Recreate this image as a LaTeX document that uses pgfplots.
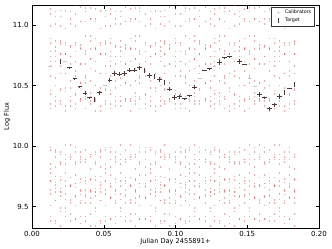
\documentclass[border=0pt]{standalone}
\usepackage{fontspec}
\setmainfont{DejaVu Sans}
\usepackage{pgfplots}
\pgfplotsset{compat=1.18}
\usepackage{pgfplotstable}
\definecolor{tgt}{RGB}{80,55,55}
\definecolor{faintc}{RGB}{205,198,198}
\definecolor{cal}{RGB}{245,80,80}

\pgfplotstableread{
x s1 s2 s3 s4 s5 s6 s7 s8 s9 s10 s11 s12 s13 s14 s15 s16 s17 s18 s19 s20 s21 s22 s23 s24 s25 s26 s27
0.0125 11.13 11.09 10.99 10.89 10.85 10.78 10.74 10.70 10.66 10.58 10.46 10.43 10.35 10.31 9.99 9.97 9.85 9.81 9.78 9.71 9.71 9.64 9.60 9.61 9.51 9.38 9.42
0.0160 11.11 11.07 11.01 10.87 10.79 10.82 10.78 10.74 10.70 10.56 10.50 10.41 10.37 10.33 9.95 9.97 9.91 9.83 9.70 9.75 9.65 9.68 9.62 9.55 9.55 9.38 9.36
0.0195 11.12 11.07 10.99 10.85 10.87 10.84 10.76 10.76 10.66 10.60 10.46 10.47 10.37 10.35 9.93 9.95 9.87 9.85 9.72 9.75 9.65 9.62 9.62 9.59 9.49 9.46 9.34
0.0229 11.12 11.11 10.97 10.85 10.83 10.76 10.76 10.76 10.60 10.60 10.48 10.45 10.33 10.29 10.01 9.93 9.85 9.89 9.78 9.67 9.71 9.60 9.56 9.61 9.49 9.46 9.42
0.0264 11.11 11.05 11.01 10.83 10.83 10.82 10.74 10.74 10.68 10.54 10.48 10.41 10.33 10.37 10.01 9.91 9.93 9.89 9.74 9.67 9.67 9.68 9.56 9.55 9.53 9.44 9.38
0.0299 11.16 11.09 10.99 10.83 10.85 10.78 10.70 10.70 10.62 10.58 10.42 10.43 10.35 10.31 9.99 9.95 9.87 9.85 9.76 9.69 9.69 9.66 9.58 9.59 9.51 9.40 9.40
0.0334 11.15 11.03 11.03 10.83 10.81 10.84 10.80 10.68 10.68 10.52 10.52 10.39 10.39 10.37 9.95 9.89 9.91 9.87 9.70 9.73 9.63 9.60 9.64 9.53 9.55 9.42 9.36
0.0369 11.14 11.11 11.03 10.91 10.79 10.76 10.78 10.68 10.58 10.56 10.52 10.39 10.41 10.31 9.97 9.89 9.89 9.87 9.74 9.71 9.69 9.64 9.60 9.59 9.53 9.42 9.38
0.0403 11.14 11.05 11.05 10.91 10.87 10.80 10.72 10.72 10.64 10.54 10.44 10.37 10.41 10.35 9.93 9.91 9.93 9.81 9.72 9.73 9.63 9.62 9.64 9.53 9.57 9.44 9.34
0.0438 11.13 11.03 11.05 10.89 10.81 10.80 10.80 10.70 10.62 10.50 10.50 10.37 10.39 10.29 9.93 9.95 9.87 9.85 9.72 9.75 9.65 9.62 9.62 9.59 9.49 9.46 9.34
0.0473 11.12 11.11 10.97 10.85 10.83 10.76 10.76 10.76 10.60 10.60 10.48 10.45 10.33 10.29 9.95 9.97 9.91 9.83 9.70 9.75 9.65 9.68 9.62 9.55 9.55 9.38 9.36
0.0508 11.12 11.07 10.99 10.85 10.87 10.84 10.76 10.76 10.66 10.60 10.46 10.47 10.37 10.35 9.99 9.97 9.85 9.81 9.78 9.71 9.71 9.64 9.60 9.61 9.51 9.38 9.42
0.0543 11.13 11.09 10.99 10.89 10.85 10.78 10.74 10.70 10.66 10.58 10.46 10.43 10.35 10.31 9.99 9.95 9.89 9.83 9.76 9.69 9.67 9.66 9.58 9.57 9.57 9.40 9.40
0.0577 11.11 11.05 11.01 10.83 10.83 10.82 10.74 10.74 10.68 10.54 10.48 10.41 10.33 10.37 9.95 9.89 9.91 9.87 9.70 9.73 9.63 9.60 9.64 9.53 9.55 9.42 9.36
0.0612 11.11 11.07 11.01 10.87 10.79 10.82 10.78 10.74 10.70 10.56 10.50 10.41 10.37 10.33 10.01 9.93 9.85 9.89 9.78 9.67 9.71 9.60 9.56 9.61 9.49 9.46 9.42
0.0647 11.15 11.03 11.03 10.83 10.81 10.84 10.80 10.68 10.68 10.52 10.52 10.39 10.39 10.37 9.97 9.89 9.89 9.87 9.74 9.71 9.69 9.64 9.60 9.59 9.53 9.42 9.38
0.0682 11.13 11.03 11.05 10.89 10.81 10.80 10.80 10.70 10.62 10.50 10.50 10.37 10.39 10.29 10.01 9.91 9.93 9.89 9.74 9.67 9.67 9.68 9.56 9.55 9.53 9.44 9.38
0.0717 11.14 11.05 11.05 10.91 10.87 10.80 10.72 10.72 10.64 10.54 10.44 10.37 10.41 10.35 9.93 9.91 9.93 9.81 9.72 9.73 9.63 9.62 9.64 9.53 9.57 9.44 9.34
0.0751 11.14 11.11 11.03 10.91 10.79 10.76 10.78 10.68 10.58 10.56 10.52 10.39 10.41 10.31 9.99 9.95 9.87 9.85 9.76 9.69 9.69 9.66 9.58 9.59 9.51 9.40 9.40
0.0786 11.16 11.09 10.99 10.83 10.85 10.78 10.70 10.70 10.62 10.58 10.42 10.43 10.35 10.31 9.99 9.95 9.89 9.83 9.76 9.69 9.67 9.66 9.58 9.57 9.57 9.40 9.40
0.0821 11.11 11.05 11.01 10.83 10.83 10.82 10.74 10.74 10.68 10.54 10.48 10.41 10.33 10.37 9.99 9.97 9.85 9.81 9.78 9.71 9.71 9.64 9.60 9.61 9.51 9.38 9.42
0.0856 11.12 11.11 10.97 10.85 10.83 10.76 10.76 10.76 10.60 10.60 10.48 10.45 10.33 10.29 9.93 9.95 9.87 9.85 9.72 9.75 9.65 9.62 9.62 9.59 9.49 9.46 9.34
0.0891 11.11 11.07 11.01 10.87 10.79 10.82 10.78 10.74 10.70 10.56 10.50 10.41 10.37 10.33 9.95 9.97 9.91 9.83 9.70 9.75 9.65 9.68 9.62 9.55 9.55 9.38 9.36
0.0925 11.12 11.07 10.99 10.85 10.87 10.84 10.76 10.76 10.66 10.60 10.46 10.47 10.37 10.35 10.01 9.91 9.93 9.89 9.74 9.67 9.67 9.68 9.56 9.55 9.53 9.44 9.38
0.0960 11.15 11.03 11.03 10.83 10.81 10.84 10.80 10.68 10.68 10.52 10.52 10.39 10.39 10.37 9.93 9.91 9.93 9.81 9.72 9.73 9.63 9.62 9.64 9.53 9.57 9.44 9.34
0.0995 11.13 11.09 10.99 10.89 10.85 10.78 10.74 10.70 10.66 10.58 10.46 10.43 10.35 10.31 9.95 9.89 9.91 9.87 9.70 9.73 9.63 9.60 9.64 9.53 9.55 9.42 9.36
0.1030 11.16 11.09 10.99 10.83 10.85 10.78 10.70 10.70 10.62 10.58 10.42 10.43 10.35 10.31 9.99 9.95 9.87 9.85 9.76 9.69 9.69 9.66 9.58 9.59 9.51 9.40 9.40
0.1065 11.14 11.11 11.03 10.91 10.79 10.76 10.78 10.68 10.58 10.56 10.52 10.39 10.41 10.31 9.95 9.97 9.91 9.83 9.70 9.75 9.65 9.68 9.62 9.55 9.55 9.38 9.36
0.1099 11.13 11.03 11.05 10.89 10.81 10.80 10.80 10.70 10.62 10.50 10.50 10.37 10.39 10.29 9.99 9.97 9.85 9.81 9.78 9.71 9.71 9.64 9.60 9.61 9.51 9.38 9.42
0.1134 11.14 11.05 11.05 10.91 10.87 10.80 10.72 10.72 10.64 10.54 10.44 10.37 10.41 10.35 10.01 9.93 9.85 9.89 9.78 9.67 9.71 9.60 9.56 9.61 9.49 9.46 9.42
0.1169 11.12 11.07 10.99 10.85 10.87 10.84 10.76 10.76 10.66 10.60 10.46 10.47 10.37 10.35 9.99 9.95 9.89 9.83 9.76 9.69 9.67 9.66 9.58 9.57 9.57 9.40 9.40
0.1204 11.15 11.03 11.03 10.83 10.81 10.84 10.80 10.68 10.68 10.52 10.52 10.39 10.39 10.37 9.97 9.89 9.89 9.87 9.74 9.71 9.69 9.64 9.60 9.59 9.53 9.42 9.38
0.1239 11.11 11.05 11.01 10.83 10.83 10.82 10.74 10.74 10.68 10.54 10.48 10.41 10.33 10.37 9.93 9.95 9.87 9.85 9.72 9.75 9.65 9.62 9.62 9.59 9.49 9.46 9.34
0.1273 11.13 11.09 10.99 10.89 10.85 10.78 10.74 10.70 10.66 10.58 10.46 10.43 10.35 10.31 9.99 9.97 9.85 9.81 9.78 9.71 9.71 9.64 9.60 9.61 9.51 9.38 9.42
0.1308 11.14 11.05 11.05 10.91 10.87 10.80 10.72 10.72 10.64 10.54 10.44 10.37 10.41 10.35 9.95 9.97 9.91 9.83 9.70 9.75 9.65 9.68 9.62 9.55 9.55 9.38 9.36
0.1343 11.14 11.11 11.03 10.91 10.79 10.76 10.78 10.68 10.58 10.56 10.52 10.39 10.41 10.31 9.93 9.91 9.93 9.81 9.72 9.73 9.63 9.62 9.64 9.53 9.57 9.44 9.34
0.1378 11.12 11.11 10.97 10.85 10.83 10.76 10.76 10.76 10.60 10.60 10.48 10.45 10.33 10.29 9.95 9.89 9.91 9.87 9.70 9.73 9.63 9.60 9.64 9.53 9.55 9.42 9.36
0.1413 11.16 11.09 10.99 10.83 10.85 10.78 10.70 10.70 10.62 10.58 10.42 10.43 10.35 10.31 9.93 9.95 9.87 9.85 9.72 9.75 9.65 9.62 9.62 9.59 9.49 9.46 9.34
0.1447 11.11 11.07 11.01 10.87 10.79 10.82 10.78 10.74 10.70 10.56 10.50 10.41 10.37 10.33 9.99 9.95 9.87 9.85 9.76 9.69 9.69 9.66 9.58 9.59 9.51 9.40 9.40
0.1482 11.13 11.03 11.05 10.89 10.81 10.80 10.80 10.70 10.62 10.50 10.50 10.37 10.39 10.29 9.97 9.89 9.89 9.87 9.74 9.71 9.69 9.64 9.60 9.59 9.53 9.42 9.38
0.1517 11.14 11.11 11.03 10.91 10.79 10.76 10.78 10.68 10.58 10.56 10.52 10.39 10.41 10.31 10.01 9.93 9.85 9.89 9.78 9.67 9.71 9.60 9.56 9.61 9.49 9.46 9.42
0.1552 11.14 11.05 11.05 10.91 10.87 10.80 10.72 10.72 10.64 10.54 10.44 10.37 10.41 10.35 9.99 9.95 9.89 9.83 9.76 9.69 9.67 9.66 9.58 9.57 9.57 9.40 9.40
0.1587 11.15 11.03 11.03 10.83 10.81 10.84 10.80 10.68 10.68 10.52 10.52 10.39 10.39 10.37 10.01 9.91 9.93 9.89 9.74 9.67 9.67 9.68 9.56 9.55 9.53 9.44 9.38
0.1621 11.11 11.05 11.01 10.83 10.83 10.82 10.74 10.74 10.68 10.54 10.48 10.41 10.33 10.37 9.99 9.95 9.87 9.85 9.76 9.69 9.69 9.66 9.58 9.59 9.51 9.40 9.40
0.1656 11.13 11.03 11.05 10.89 10.81 10.80 10.80 10.70 10.62 10.50 10.50 10.37 10.39 10.29 9.97 9.89 9.89 9.87 9.74 9.71 9.69 9.64 9.60 9.59 9.53 9.42 9.38
0.1691 11.13 11.09 10.99 10.89 10.85 10.78 10.74 10.70 10.66 10.58 10.46 10.43 10.35 10.31 10.01 9.91 9.93 9.89 9.74 9.67 9.67 9.68 9.56 9.55 9.53 9.44 9.38
0.1726 11.11 11.07 11.01 10.87 10.79 10.82 10.78 10.74 10.70 10.56 10.50 10.41 10.37 10.33 10.01 9.93 9.85 9.89 9.78 9.67 9.71 9.60 9.56 9.61 9.49 9.46 9.42
0.1761 11.12 11.11 10.97 10.85 10.83 10.76 10.76 10.76 10.60 10.60 10.48 10.45 10.33 10.29 9.95 9.89 9.91 9.87 9.70 9.73 9.63 9.60 9.64 9.53 9.55 9.42 9.36
0.1795 11.16 11.09 10.99 10.83 10.85 10.78 10.70 10.70 10.62 10.58 10.42 10.43 10.35 10.31 9.99 9.95 9.89 9.83 9.76 9.69 9.67 9.66 9.58 9.57 9.57 9.40 9.40
0.1830 11.12 11.07 10.99 10.85 10.87 10.84 10.76 10.76 10.66 10.60 10.46 10.47 10.37 10.35 9.93 9.91 9.93 9.81 9.72 9.73 9.63 9.62 9.64 9.53 9.57 9.44 9.34
}\caltable

% target points with marker and error bar
\pgfplotstableread{
x y e
0.0264 10.646 0.003
0.0299 10.558 0.003
0.0334 10.490 0.003
0.0369 10.436 0.018
0.0403 10.400 0.003
0.0473 10.440 0.018
0.0543 10.544 0.018
0.0577 10.600 0.018
0.0612 10.593 0.018
0.0647 10.600 0.018
0.0682 10.626 0.018
0.0717 10.626 0.018
0.0751 10.646 0.018
0.0821 10.583 0.018
0.0891 10.550 0.018
0.0960 10.470 0.018
0.0995 10.400 0.018
0.1030 10.407 0.018
0.1065 10.390 0.003
0.1099 10.415 0.003
0.1134 10.486 0.018
0.1204 10.626 0.003
0.1239 10.638 0.003
0.1308 10.690 0.018
0.1343 10.730 0.003
0.1378 10.737 0.003
0.1447 10.700 0.018
0.1482 10.674 0.003
0.1587 10.426 0.018
0.1621 10.400 0.003
0.1656 10.308 0.018
0.1691 10.340 0.018
0.1726 10.410 0.018
0.1795 10.480 0.003
}\tgtmain

% target points showing only their error bar
\pgfplotstableread{
x y
0.0195 10.700
0.0438 10.384
0.0786 10.624
0.0856 10.577
0.0925 10.527
0.1761 10.445
0.1830 10.508
}\tgtbar

% faint target points
\pgfplotstableread{
x y
0.0125 10.654
0.0229 10.700
0.0508 10.500
0.1169 10.558
0.1273 10.655
0.1517 10.558
0.1552 10.490
}\tgtfaint

\begin{document}
\begin{tikzpicture}
\begin{axis}[
  at={(0,0)}, anchor=south west,
  scale only axis, width=287pt, height=223pt,
  xmin=0, xmax=0.2, ymin=9.324, ymax=11.165,
  xtick={0,0.05,0.1,0.15,0.2},
  ytick={9.5,10,10.5,11},
  scaled x ticks=false,
  xticklabel style={/pgf/number format/.cd, fixed, fixed zerofill, precision=2},
  yticklabel style={/pgf/number format/.cd, fixed, fixed zerofill, precision=1},
  /pgf/number format/assume math mode=true,
  tick label style={font=\fontsize{7}{8}\selectfont},
  label style={font=\fontsize{6.6}{7.5}\selectfont},
  xlabel={Julian Day 2455891+},
  ylabel={Log Flux},
  xlabel style={at={(axis description cs:0.5,-0.0628)}, anchor=center},
  ylabel style={at={(axis description cs:-0.0871,0.5)}, anchor=center},
  major tick length=3.5pt,
  tick style={black, line width=0.5pt},
  axis line style={line width=0.8pt},
  legend style={at={(axis description cs:0.986,0.991)}, anchor=north east,
    font=\fontsize{4.8}{5.5}\selectfont, draw=black!80, line width=0.5pt,
    inner xsep=1.5pt, inner ysep=1pt, row sep=-1.5pt},
  legend cell align=left,
]
\pgfplotsinvokeforeach{1,...,27}{
  \addplot[only marks, mark=|, mark size=0.8pt, cal, opacity=0.5,
    mark options={line width=0.55pt}, forget plot]
    table[x index=0, y index=#1] {\caltable};
}
\addplot[only marks, mark=-, mark size=1.8pt, faintc, mark options={line width=0.9pt}, forget plot]
  table[x=x, y=y] {\tgtfaint};
\addplot[forget plot, only marks, mark=-, mark size=2.4pt, tgt, mark options={line width=0.9pt},
  error bars/.cd, y dir=both, y explicit, error mark=none,
  error bar style={line width=0.9pt, tgt}]
  table[x=x, y=y, y error=e] {\tgtmain};
\addplot[only marks, mark=|, mark size=2.6pt, tgt, mark options={line width=0.9pt}, forget plot]
  table[x=x, y=y] {\tgtbar};

\addlegendimage{legend image code/.code={\path[draw=none,fill=none] (0,0) -- (0.35cm,0); \fill[cal, opacity=0.6] (0.18cm,0) circle (0.45pt);}}
\addlegendentry{Calibrators}
\addlegendimage{legend image code/.code={\path[draw=none,fill=none] (0,0) -- (0.35cm,0); \draw[tgt, line width=0.8pt] (0.18cm,-2.8pt) -- (0.18cm,2.8pt);}}
\addlegendentry{Target}
\end{axis}
\pgfresetboundingbox
\useasboundingbox (-32pt,-21pt) rectangle (300pt,228pt);
\end{tikzpicture}
\end{document}
